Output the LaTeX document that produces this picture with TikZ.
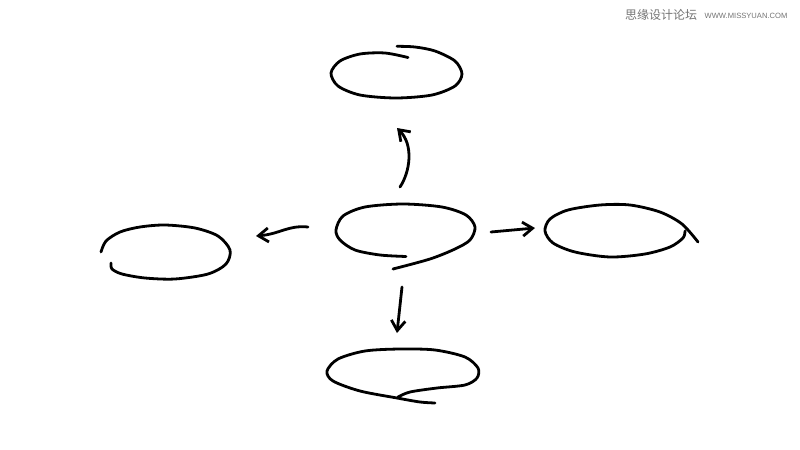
\documentclass[tikz,border=0pt]{standalone}
\usepackage{fontspec}
\newfontfamily\cjk{Noto Sans CJK SC}
\newfontfamily\markfont{Liberation Sans}
\usetikzlibrary{arrows.meta,positioning}

\tikzset{
  sketch/.style={line width=1.4pt, line cap=round, line join=round},
  pointer/.style={sketch, ->},
  watermark/.style={text=black!55, inner sep=0pt}
}

\begin{document}
\begin{tikzpicture}[x=0.5pt, y=-0.5pt, >={Straight Barb[length=5pt,width=7pt]}]
\useasboundingbox (0,0) rectangle (800,450);

% watermark
\node[watermark, font=\cjk\fontsize{6pt}{6pt}\selectfont] (markcn) at (661,15) {思缘设计论坛};
\node[watermark, font=\markfont\fontsize{3.8pt}{4pt}\selectfont] (markurl) at (746,16) {WWW.MISSYUAN.COM};

% the five loops
\draw[sketch] plot[smooth] coordinates {(408,57.5) (385,53) (360,54) (340,61) (331,73) (338,86) (360,95) (396,98) (432,95) (455,86) (462,74) (455,61) (435,51) (415,47) (397,46.3)};
\draw[sketch] plot[smooth] coordinates {(406,256.5) (380,255) (355,250) (340,240) (336,230) (343,216) (365,207) (403,204) (442,207) (466,215) (475,227) (470,240) (455,249) (430,259) (393,269)};
\draw[sketch] plot[smooth] coordinates {(101,252) (106,241) (120,232) (140,227) (165,225) (195,228) (218,236) (230,250) (226,264) (208,274) (175,279) (145,278) (122,274) (112,269) (111,263)};
\draw[sketch] plot[smooth] coordinates {(685,231) (683,238) (670,247) (645,254) (610,257) (575,252) (553,243) (545,231) (550,219) (568,210) (600,205) (630,205) (660,212) (682,224) (698,242)};
\draw[sketch] plot[smooth] coordinates {(398,397) (410,392) (437,388) (465,385) (477,378) (478,368) (465,357) (435,350) (400,349) (365,351) (338,359) (327,371) (333,381) (360,391) (397,398) (420,402) (435,403)};

% arrow ends
\coordinate (uptail) at (400,187);
\coordinate (uphead) at (397,128);
\coordinate (lefttail) at (308,227);
\coordinate (lefthead) at (256,236);
\coordinate (righttail) at (491,232);
\coordinate (righthead) at (535,228);
\coordinate (downtail) at (402,287);
\coordinate (downhead) at (397,333);

\draw[pointer] (uptail) .. controls (410,172) and (414,145) .. (uphead);
\draw[pointer] (lefttail) .. controls (288,225) and (280,234) .. (lefthead);
\draw[pointer] (righttail) -- (righthead);
\draw[pointer] (downtail) -- (downhead);
\end{tikzpicture}
\end{document}
